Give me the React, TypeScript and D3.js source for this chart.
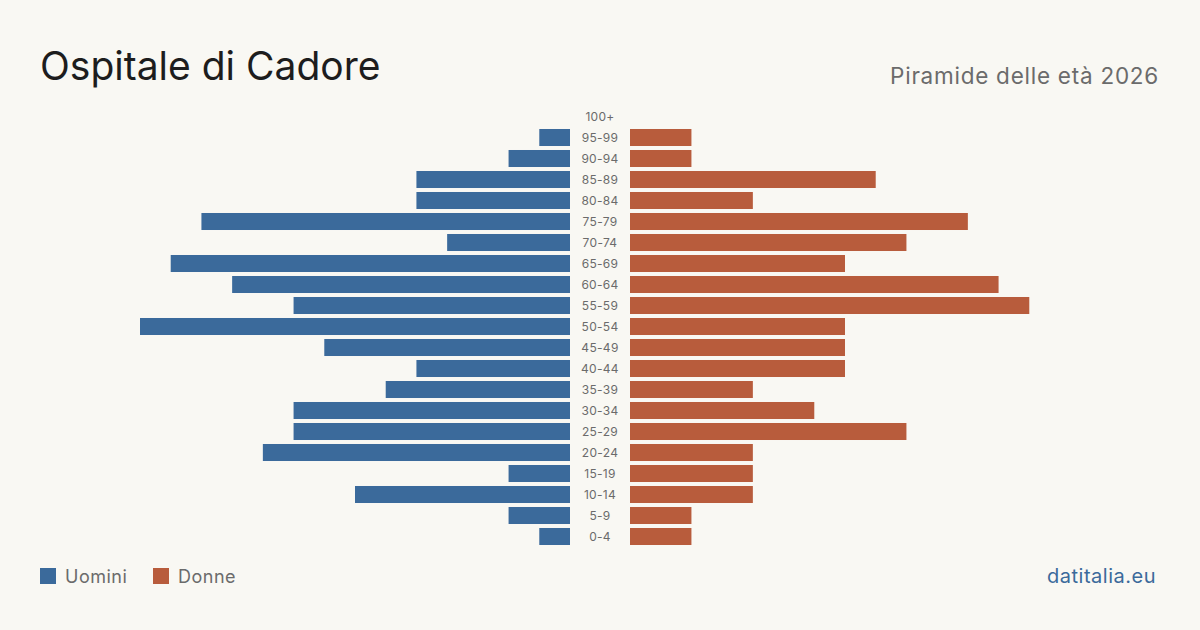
import React from 'react';
import * as d3 from 'd3';

// Age classes, top to bottom
const ageGroups = [
  '100+', '95-99', '90-94', '85-89', '80-84', '75-79', '70-74', '65-69', '60-64',
  '55-59', '50-54', '45-49', '40-44', '35-39', '30-34', '25-29', '20-24', '15-19',
  '10-14', '5-9', '0-4',
];
const men = [0, 1, 2, 5, 5, 12, 4, 13, 11, 9, 14, 8, 5, 6, 9, 9, 10, 2, 7, 2, 1];
const women = [0, 2, 2, 8, 4, 11, 9, 7, 12, 13, 7, 7, 7, 4, 6, 9, 4, 4, 4, 2, 2];

const legendLabels = ['Uomini', 'Donne'];

const W = 1200;
const H = 630;
const BLUE = '#3b6a9b';
const ORANGE = '#b85c3c';
const FONT = 'Inter, "Noto Sans", sans-serif';

const App = () => {
  const maxVal = d3.max([...men, ...women]) ?? 1;

  const y = d3.scaleBand<string>()
    .domain(ageGroups)
    .range([106, 547])
    .paddingInner(0.19)
    .paddingOuter(0.095);

  const xLeft = d3.scaleLinear().domain([0, maxVal]).range([570, 140]);
  const xRight = d3.scaleLinear().domain([0, maxVal]).range([630, 1060]);

  return (
    <svg width={W} height={H} style={{ display: 'block', position: 'absolute', left: 0, top: 0 }}>
      <rect width={W} height={H} fill="#f9f8f3" />

      <text x={40} y={80} fontFamily={FONT} fontSize={39} fill="#1d1d1d">Ospitale di Cadore</text>
      <text x={1159} y={84} textAnchor="end" fontFamily={FONT} fontSize={22.5} letterSpacing={0.75} fill="#6b6b6b">
        Piramide delle età 2026
      </text>

      {ageGroups.map((g, i) => (
        <g key={g}>
          {men[i] > 0 && (
            <rect
              x={xLeft(men[i])}
              y={y(g)}
              width={xLeft(0) - xLeft(men[i])}
              height={y.bandwidth()}
              fill={BLUE}
            />
          )}
          {women[i] > 0 && (
            <rect
              x={xRight(0)}
              y={y(g)}
              width={xRight(women[i]) - xRight(0)}
              height={y.bandwidth()}
              fill={ORANGE}
            />
          )}
          <text
            x={600}
            y={(y(g) ?? 0) + y.bandwidth() / 2}
            dy="0.35em"
            textAnchor="middle"
            fontFamily={FONT}
            fontSize={12}
            letterSpacing={0.3}
            fill="#6b6b6b"
          >
            {g}
          </text>
        </g>
      ))}

      {/* legend */}
      <rect x={40} y={568} width={16} height={16} fill={BLUE} />
      <text x={65} y={583} fontFamily={FONT} fontSize={18} letterSpacing={0.5} fill="#6b6b6b">{legendLabels[0]}</text>
      <rect x={153} y={568} width={16} height={16} fill={ORANGE} />
      <text x={178} y={583} fontFamily={FONT} fontSize={18} letterSpacing={0.5} fill="#6b6b6b">{legendLabels[1]}</text>

      <text x={1156} y={583} textAnchor="end" fontFamily={FONT} fontSize={20} letterSpacing={0.5} fill={BLUE}>datitalia.eu</text>
    </svg>
  );
};

export default App;
